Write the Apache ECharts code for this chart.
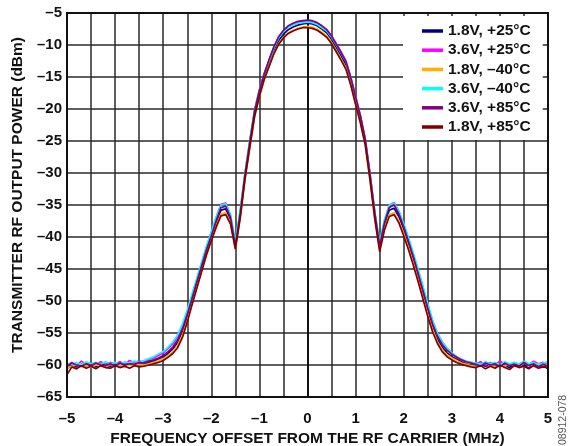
<!DOCTYPE html>
<html><head><meta charset="utf-8">
<script src="https://cdn.jsdelivr.net/npm/echarts@6/dist/echarts.min.js"></script>
<style>html,body{margin:0;padding:0;background:#fff}#c{width:571px;height:446px}</style>
</head><body><div id="c"></div>
<script>
// Frequency offset (MHz), -5.0 .. 5.0 step 0.1
const freq = [-5.0,-4.9,-4.8,-4.7,-4.6,-4.5,-4.4,-4.3,-4.2,-4.1,-4.0,-3.9,-3.8,-3.7,-3.6,-3.5,-3.4,-3.3,-3.2,-3.1,-3.0,-2.9,-2.8,-2.7,-2.6,-2.5,-2.4,-2.3,-2.2,-2.1,-2.0,-1.9,-1.8,-1.7,-1.6,-1.5,-1.4,-1.3,-1.2,-1.1,-1.0,-0.9,-0.8,-0.7,-0.6,-0.5,-0.4,-0.3,-0.2,-0.1,0.0,0.1,0.2,0.3,0.4,0.5,0.6,0.7,0.8,0.9,1.0,1.1,1.2,1.3,1.4,1.5,1.6,1.7,1.8,1.9,2.0,2.1,2.2,2.3,2.4,2.5,2.6,2.7,2.8,2.9,3.0,3.1,3.2,3.3,3.4,3.5,3.6,3.7,3.8,3.9,4.0,4.1,4.2,4.3,4.4,4.5,4.6,4.7,4.8,4.9,5.0];

const seriesNames = ['1.8V, +25°C','3.6V, +25°C','1.8V, –40°C','3.6V, –40°C','3.6V, +85°C','1.8V, +85°C'];

const v18_p25 = [-60.5,-60.1,-60.3,-59.9,-60.2,-60.0,-60.3,-59.8,-60.1,-60.2,-59.9,-60.1,-60.0,-59.7,-60.0,-59.8,-59.9,
 -59.6,-59.4,-59.1,-58.8,-58.2,-57.5,-56.5,-54.8,-52.5,-49.9,-47.3,-44.8,-42.3,
 -40.1,-37.8,-35.8,-35.6,-37.4,-41.6,-36.7,-30.6,-25.6,-20.8,
 -17.6,-15.0,-12.9,-10.9,-9.3,-8.3,-7.6,-7.2,-6.9,-6.7,
 -6.6,
 -6.7,-7.0,-7.5,-8.1,-9.1,-10.4,-11.7,-13.1,-15.6,-18.6,
 -21.6,-25.1,-30.6,-36.6,-41.6,-38.2,-35.8,-35.5,-36.8,-38.8,
 -41.1,-43.5,-46.1,-48.8,-51.5,-54.0,-55.9,-57.2,-58.1,-58.7,
 -59.1,-59.5,-59.8,-60.0,
 -60.1,-59.9,-60.2,-60.0,-60.3,-59.8,-60.1,-60.4,-59.9,-60.2,-60.0,-60.5,-59.9,-60.2,-60.1,-60.6];

const v36_p25 = [-60.0,-59.6,-60.1,-59.4,-59.9,-59.7,-60.0,-59.5,-59.9,-59.6,-59.8,-59.5,-59.9,-59.3,-59.6,-59.4,-59.5,
 -59.1,-58.9,-58.5,-58.1,-57.4,-56.7,-55.6,-53.9,-51.7,-49.1,-46.6,-44.1,-41.6,
 -39.3,-37.0,-34.9,-34.7,-36.7,-41.2,-36.1,-30.1,-25.0,-20.2,
 -17.0,-14.5,-12.4,-10.4,-8.8,-7.8,-7.1,-6.8,-6.5,-6.3,
 -6.2,
 -6.3,-6.6,-7.1,-7.6,-8.6,-9.8,-11.1,-12.5,-15.0,-18.0,
 -21.0,-24.6,-30.1,-36.2,-41.2,-37.5,-35.0,-34.6,-36.0,-38.0,
 -40.3,-42.7,-45.2,-47.9,-50.6,-53.1,-55.1,-56.4,-57.4,-58.1,
 -58.7,-59.1,-59.5,-59.6,
 -59.8,-59.5,-60.0,-59.6,-59.9,-59.4,-59.8,-60.1,-59.6,-59.9,-59.5,-59.9,-59.4,-59.8,-59.6,-60.0];

const v18_m40 = [-60.4,-60.2,-60.0,-60.3,-60.1,-60.4,-60.0,-60.2,-60.3,-59.9,-60.2,-60.0,-60.3,-60.0,-60.1,-59.9,-60.0,
 -59.8,-59.6,-59.3,-59.0,-58.5,-57.9,-56.9,-55.3,-53.0,-50.3,-47.6,-45.0,-42.5,
 -40.3,-38.2,-36.4,-36.2,-37.8,-41.8,-37.0,-31.0,-26.0,-21.2,
 -18.0,-15.4,-13.3,-11.3,-9.8,-8.8,-8.1,-7.7,-7.4,-7.2,
 -7.1,
 -7.2,-7.5,-8.0,-8.6,-9.6,-10.9,-12.2,-13.6,-16.1,-19.1,
 -22.1,-25.5,-31.0,-37.0,-41.8,-38.6,-36.5,-36.2,-37.5,-39.4,
 -41.6,-44.0,-46.6,-49.3,-52.0,-54.4,-56.3,-57.6,-58.4,-58.9,
 -59.3,-59.7,-59.9,-60.1,
 -60.2,-60.0,-59.7,-60.1,-60.3,-59.9,-60.2,-59.8,-60.1,-60.3,-59.7,-60.0,-60.2,-59.8,-60.1,-59.9];

const v36_m40 = [-59.8,-59.9,-59.6,-60.0,-59.5,-59.8,-59.6,-59.9,-59.5,-59.8,-59.6,-59.9,-59.5,-59.7,-59.4,-59.6,-59.3,
 -59.0,-58.7,-58.3,-57.9,-57.2,-56.4,-55.3,-53.6,-51.4,-48.9,-46.4,-43.9,-41.4,
 -39.2,-36.9,-35.0,-34.8,-36.5,-40.6,-35.8,-29.9,-24.9,-20.1,
 -17.0,-14.5,-12.5,-10.5,-8.9,-7.9,-7.2,-6.9,-6.6,-6.5,
 -6.4,
 -6.5,-6.8,-7.3,-7.8,-8.8,-10.0,-11.3,-12.6,-15.1,-18.1,
 -21.1,-24.7,-30.2,-36.0,-40.8,-37.3,-35.0,-34.7,-36.0,-37.9,
 -40.1,-42.5,-45.0,-47.7,-50.4,-53.0,-55.0,-56.4,-57.4,-58.1,
 -58.7,-59.1,-59.4,-59.6,
 -59.7,-59.9,-59.5,-59.8,-59.6,-60.0,-59.5,-59.8,-59.6,-59.9,-59.4,-59.8,-59.6,-60.0,-59.7,-59.5];

const v36_p85 = [-60.2,-59.7,-60.0,-60.2,-59.8,-60.1,-59.7,-60.0,-60.1,-59.8,-60.2,-59.7,-60.0,-59.8,-59.9,-59.6,-59.7,
 -59.4,-59.2,-58.9,-58.5,-57.9,-57.2,-56.1,-54.4,-52.1,-49.6,-47.0,-44.5,-42.0,
 -39.8,-37.5,-35.4,-35.2,-37.0,-41.3,-36.4,-30.3,-25.2,-20.3,
 -17.1,-14.5,-12.3,-10.3,-8.7,-7.7,-7.0,-6.6,-6.3,-6.2,
 -6.1,
 -6.2,-6.5,-7.0,-7.6,-8.6,-9.9,-11.2,-12.6,-15.1,-18.1,
 -21.1,-24.7,-30.3,-36.3,-41.4,-37.8,-35.4,-35.0,-36.4,-38.4,
 -40.7,-43.1,-45.7,-48.4,-51.1,-53.6,-55.5,-56.8,-57.7,-58.3,
 -58.8,-59.2,-59.5,-59.7,
 -59.9,-60.2,-59.7,-60.0,-59.8,-60.3,-59.7,-60.1,-59.9,-60.2,-59.6,-60.1,-59.8,-60.3,-59.9,-60.2];

const v18_p85 = [-61.5,-60.3,-60.6,-60.1,-60.5,-60.2,-60.6,-60.1,-60.4,-60.5,-60.1,-60.4,-60.2,-60.5,-60.1,-60.3,-60.2,
 -60.0,-59.8,-59.6,-59.3,-58.8,-58.2,-57.3,-55.7,-53.3,-50.6,-48.0,-45.4,-42.8,
 -40.6,-38.5,-36.7,-36.5,-38.0,-41.9,-37.1,-31.0,-26.0,-21.2,
 -18.0,-15.4,-13.4,-11.4,-9.9,-8.9,-8.2,-7.8,-7.5,-7.3,
 -7.3,
 -7.4,-7.7,-8.2,-8.8,-9.8,-11.1,-12.4,-13.8,-16.3,-19.3,
 -22.2,-25.6,-31.1,-37.3,-42.3,-38.9,-36.8,-36.5,-37.8,-39.8,
 -42.0,-44.4,-47.0,-49.7,-52.4,-54.8,-56.6,-57.9,-58.7,-59.2,
 -59.6,-59.9,-60.1,-60.3,
 -60.4,-60.1,-60.6,-60.2,-60.5,-60.0,-60.4,-60.7,-60.1,-60.4,-60.2,-60.6,-60.1,-60.5,-60.3,-60.4];

const seriesValues = [v18_p25, v36_p25, v18_m40, v36_m40, v36_p85, v18_p85];
const seriesColors = ['#000080','#ff00ff','#ffb000','#00ffff','#800080','#800000'];

const xTickMin = -5, xTickMax = 5;
const yTickMin = -65, yTickMax = -5;

const FONT = 'Arial, "Liberation Sans", sans-serif';
const dash = v => String(v).replace('-', '\u2013');

const chart = echarts.init(document.getElementById('c'), null, {renderer: 'canvas'});
chart.setOption({
  animation: false,
  backgroundColor: '#fff',
  grid: {left: 67, right: 23, top: 13, bottom: 49, show: true, borderColor: '#111', borderWidth: 2, z: 10,
         containLabel: false, outerBoundsMode: 'none'},
  xAxis: {
    type: 'value', min: xTickMin, max: xTickMax, interval: 0.5,
    axisLine: {show: true, onZero: false, lineStyle: {color: '#111', width: 2}},
    axisTick: {show: false},
    splitLine: {show: true, lineStyle: {color: '#2a2a2a', width: 1.5}},
    axisLabel: {
      margin: 14, color: '#111', fontFamily: FONT, fontWeight: 'bold', fontSize: 15,
      formatter: v => (Math.abs(v - Math.round(v)) < 1e-9 ? dash(Math.round(v)) : '')
    },
    name: 'FREQUENCY OFFSET FROM THE RF CARRIER (MHz)', nameLocation: 'middle', nameGap: 33,
    nameTextStyle: {color: '#111', fontFamily: FONT, fontWeight: 'bold', fontSize: 15.5}
  },
  yAxis: {
    type: 'value', min: yTickMin, max: yTickMax, interval: 5,
    axisLine: {show: true, lineStyle: {color: '#111', width: 2}},
    axisTick: {show: false},
    splitLine: {show: true, lineStyle: {color: '#2a2a2a', width: 1.5}},
    axisLabel: {margin: 5, color: '#111', fontFamily: FONT, fontWeight: 'bold', fontSize: 15, formatter: v => dash(v)}
  },
  legend: {
    orient: 'vertical', left: 403, top: 16, padding: [7, 12, 5, 19], itemGap: 3.2,
    itemWidth: 21, itemHeight: 3.5, icon: 'rect',
    backgroundColor: '#fff', z: 5,
    textStyle: {color: '#111', fontFamily: FONT, fontWeight: 'bold', fontSize: 15.5, lineHeight: 16},
    data: seriesNames
  },
  graphic: [{
    type: 'text', x: 17.5, y: 195, rotation: Math.PI / 2, z: 20,
    style: {text: 'TRANSMITTER RF OUTPUT POWER (dBm)', fill: '#111', font: 'bold 15.5px ' + FONT, align: 'center', verticalAlign: 'middle'}
  }, {
    type: 'text', x: 563, y: 445, rotation: Math.PI / 2, z: 20,
    style: {text: '08912-078', fill: '#555', font: '10.5px ' + FONT, align: 'left', verticalAlign: 'middle'}
  }],
  series: seriesNames.map((n, i) => ({
    name: n, type: 'line', showSymbol: false, symbol: 'none',
    data: freq.map((f, k) => [f, seriesValues[i][k]]),
    lineStyle: {color: seriesColors[i], width: 1.7},
    itemStyle: {color: seriesColors[i]},
    z: 3
  }))
});
</script></body></html>
